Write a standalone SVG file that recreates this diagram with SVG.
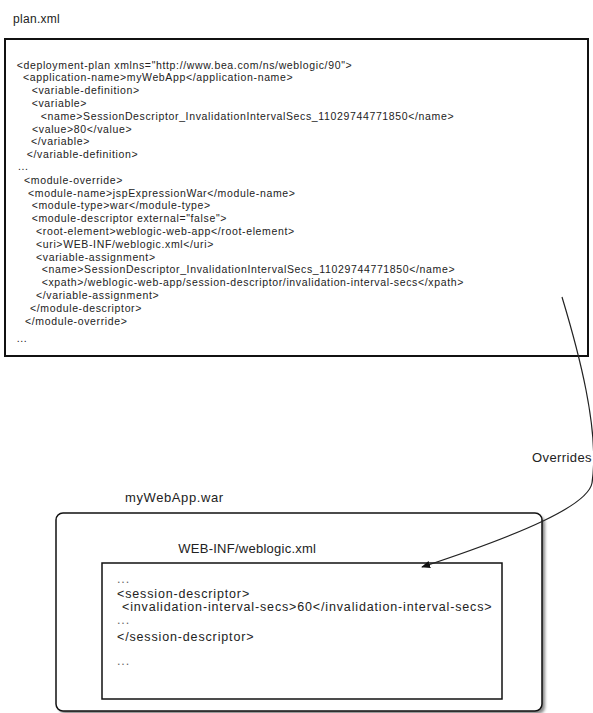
<svg xmlns="http://www.w3.org/2000/svg" width="593" height="713" viewBox="0 0 593 713">
<style>
text{font-family:"Liberation Sans",Arial,sans-serif;fill:#222}
.code{font-size:10.5px;letter-spacing:0.64px}
.code2{font-size:12.5px;letter-spacing:0.85px}
.lbl{font-size:13px}
.dots{fill:#666}
.box{fill:#fff;stroke:#111}
.conn{fill:none;stroke:#222;stroke-width:1.2}
</style>
<defs>
<marker id="arr" viewBox="0 0 10 10" refX="9" refY="5" markerWidth="9" markerHeight="9" markerUnits="userSpaceOnUse" orient="auto">
<path d="M0,1 L10,5 L0,9 Z" fill="#111"/>
</marker>
<filter id="sh" x="-5%" y="-5%" width="110%" height="110%">
<feGaussianBlur stdDeviation="1.5"/>
</filter>
</defs>

<g id="plan">
<text class="lbl" x="13" y="23" style="font-size:12px;letter-spacing:0.3px">plan.xml</text>
<rect class="box" x="5" y="39" width="583" height="317" stroke-width="2"/>
<text class="code" x="16.7" y="68.5">&lt;deployment-plan xmlns="http://www.bea.com/ns/weblogic/90"&gt;</text>
<text class="code" x="23" y="81.3">&lt;application-name&gt;myWebApp&lt;/application-name&gt;</text>
<text class="code" x="31.7" y="94.1">&lt;variable-definition&gt;</text>
<text class="code" x="31.7" y="106.9">&lt;variable&gt;</text>
<text class="code" x="40.7" y="119.7">&lt;name&gt;SessionDescriptor_InvalidationIntervalSecs_11029744771850&lt;/name&gt;</text>
<text class="code" x="32" y="132.5">&lt;value&gt;80&lt;/value&gt;</text>
<text class="code" x="31" y="145.3">&lt;/variable&gt;</text>
<text class="code" x="26.7" y="158.1">&lt;/variable-definition&gt;</text>
<text class="code" x="18" y="169.5">...</text>
<text class="code" x="24" y="183.7">&lt;module-override&gt;</text>
<text class="code" x="28" y="196.5">&lt;module-name&gt;jspExpressionWar&lt;/module-name&gt;</text>
<text class="code" x="31.7" y="209.3">&lt;module-type&gt;war&lt;/module-type&gt;</text>
<text class="code" x="31.7" y="222.1">&lt;module-descriptor external="false"&gt;</text>
<text class="code" x="36" y="234.9">&lt;root-element&gt;weblogic-web-app&lt;/root-element&gt;</text>
<text class="code" x="36" y="247.7">&lt;uri&gt;WEB-INF/weblogic.xml&lt;/uri&gt;</text>
<text class="code" x="36" y="260.5">&lt;variable-assignment&gt;</text>
<text class="code" x="41.7" y="273.3">&lt;name&gt;SessionDescriptor_InvalidationIntervalSecs_11029744771850&lt;/name&gt;</text>
<text class="code" x="41.7" y="286.1">&lt;xpath&gt;/weblogic-web-app/session-descriptor/invalidation-interval-secs&lt;/xpath&gt;</text>
<text class="code" x="36" y="298.9">&lt;/variable-assignment&gt;</text>
<text class="code" x="30" y="311.7">&lt;/module-descriptor&gt;</text>
<text class="code" x="25" y="324.5">&lt;/module-override&gt;</text>
<text class="code" x="16.7" y="342">...</text>
</g>

<g id="war">
<text class="lbl" x="125" y="501.5" style="letter-spacing:0.6px">myWebApp.war</text>
<rect x="59" y="516" width="486" height="198" rx="7" fill="#888" filter="url(#sh)"/>
<rect class="box" x="56" y="513" width="486" height="198" rx="7" stroke-width="1.5"/>
</g>

<g id="weblogic">
<text class="lbl" x="178.3" y="552.5" style="letter-spacing:0.25px">WEB-INF/weblogic.xml</text>
<rect class="box" x="102" y="563" width="400" height="136" stroke-width="1.5"/>
<text class="code2 dots" x="117" y="583">...</text>
<text class="code2" x="117" y="597.5">&lt;session-descriptor&gt;</text>
<text class="code2" x="122" y="611">&lt;invalidation-interval-secs&gt;60&lt;/invalidation-interval-secs&gt;</text>
<text class="code2 dots" x="117" y="624">...</text>
<text class="code2" x="117" y="641">&lt;/session-descriptor&gt;</text>
<text class="code2 dots" x="117" y="665">...</text>
</g>

<g id="connectors">
<path class="conn" d="M562,297 C578,350 600,430 592,483 C588,505 525,533 422,567" marker-end="url(#arr)"/>
<text class="lbl" x="532" y="461.5" style="letter-spacing:0.4px">Overrides</text>
</g>
</svg>
